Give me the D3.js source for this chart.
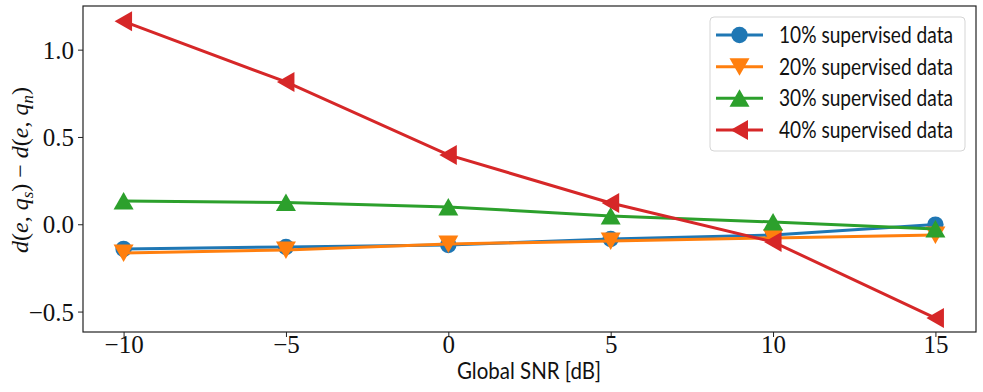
<!DOCTYPE html>
<html>
<head>
<meta charset="utf-8">
<script src="https://cdn.jsdelivr.net/npm/d3@7"></script>
<style>
  body { margin: 0; background: #fff; }
  svg { display: block; }
</style>
</head>
<body>
<svg id="chart" width="983" height="392"></svg>
<script>
const snr = [-10, -5, 0, 5, 10, 15]
const labels = ['10% supervised data', '20% supervised data', '30% supervised data', '40% supervised data']
const sup10 = [-0.141, -0.130, -0.119, -0.084, -0.061, -0.002]
const sup20 = [-0.164, -0.147, -0.113, -0.096, -0.078, -0.061]
const sup30 = [0.133, 0.124, 0.099, 0.048, 0.013, -0.027]
const sup40 = [1.162, 0.815, 0.397, 0.122, -0.101, -0.537]
const xTicks = [-10, -5, 0, 5, 10, 15]
const yTicks = [-0.5, 0.0, 0.5, 1.0]

const colors = ['#1f77b4', '#ff7f0e', '#2ca02c', '#d62728']
const symbols = ['circle', 'down', 'up', 'left']
const series = [sup10, sup20, sup30, sup40]

const plot = { left: 83, right: 976, top: 6, bottom: 332 }
const svg = d3.select('#chart')

const x = d3.scaleLinear().domain([-11.25, 16.25]).range([plot.left, plot.right])
const y = d3.scaleLinear().domain([-0.617, 1.25]).range([plot.bottom, plot.top])

const fmt = (v, digits) => {
  const s = digits ? Math.abs(v).toFixed(digits) : String(Math.abs(v))
  return (v < 0 ? '\u2212' : '') + s
}

// axes
const xAxis = svg.append('g')
  .attr('transform', `translate(0,${plot.bottom})`)
  .call(d3.axisBottom(x).tickValues(xTicks).tickSize(5).tickSizeOuter(0).tickFormat(d => fmt(d)))
const yAxis = svg.append('g')
  .attr('transform', `translate(${plot.left},0)`)
  .call(d3.axisLeft(y).tickValues(yTicks).tickSize(5).tickSizeOuter(0).tickFormat(d => fmt(d, 1)))

for (const ax of [xAxis, yAxis]) {
  ax.select('.domain').remove()
  ax.selectAll('.tick line').attr('stroke', '#222').attr('stroke-width', 1)
  ax.selectAll('.tick text')
    .attr('fill', '#111')
    .style('font-family', '"Liberation Serif", "DejaVu Serif", serif')
    .style('font-size', '25px')
}
xAxis.selectAll('.tick text').attr('dy', 0).attr('y', 21)
yAxis.selectAll('.tick text').attr('x', -9).attr('dy', '0.34em')

// marker shapes
function marker(sel, kind, s) {
  if (kind === 'circle') return sel.append('circle').attr('r', s * 0.82)
  let pts
  if (kind === 'down') pts = [[-s, -s * 0.85], [s, -s * 0.85], [0, s * 0.9]]
  else if (kind === 'up') pts = [[-s, s * 0.85], [s, s * 0.85], [0, -s * 0.9]]
  else pts = [[s * 0.85, -s], [s * 0.85, s], [-s * 0.9, 0]]
  return sel.append('path').attr('d', 'M' + pts.map(p => p.join(',')).join('L') + 'Z')
}

const line = d3.line().x((d, i) => x(snr[i])).y(d => y(d))
const g = svg.append('g')
series.forEach((vals, k) => {
  const sg = g.append('g')
  sg.append('path')
    .attr('d', line(vals))
    .attr('fill', 'none')
    .attr('stroke', colors[k])
    .attr('stroke-width', 3)
  vals.forEach((v, i) => {
    const mg = sg.append('g').attr('transform', `translate(${x(snr[i])},${y(v)})`)
    marker(mg, symbols[k], 10).attr('fill', colors[k])
  })
})

// frame
svg.append('rect')
  .attr('x', plot.left).attr('y', plot.top)
  .attr('width', plot.right - plot.left).attr('height', plot.bottom - plot.top)
  .attr('fill', 'none').attr('stroke', '#222').attr('stroke-width', 1.2)

// legend
const leg = svg.append('g')
leg.append('rect')
  .attr('x', 710).attr('y', 17).attr('width', 255).attr('height', 134)
  .attr('rx', 4).attr('fill', '#fff').attr('fill-opacity', 0.8)
  .attr('stroke', '#d5d5d5').attr('stroke-width', 1)
const rowY = d3.scaleLinear().domain([0, 3]).range([35, 130])
labels.forEach((lab, k) => {
  const yy = rowY(k)
  leg.append('line')
    .attr('x1', 716).attr('x2', 763).attr('y1', yy).attr('y2', yy)
    .attr('stroke', colors[k]).attr('stroke-width', 3)
  const mg = leg.append('g').attr('transform', `translate(739.5,${yy})`)
  marker(mg, symbols[k], 10).attr('fill', colors[k])
  leg.append('text')
    .attr('x', 779).attr('y', yy).attr('dy', '0.36em')
    .attr('textLength', 174).attr('lengthAdjust', 'spacingAndGlyphs')
    .style('font-family', 'Lato, "DejaVu Sans", sans-serif')
    .style('font-size', '22.5px')
    .attr('fill', '#111')
    .text(lab)
})

// axis labels
svg.append('text')
  .attr('x', 457).attr('y', 379)
  .attr('textLength', 144).attr('lengthAdjust', 'spacingAndGlyphs')
  .style('font-family', 'Lato, "DejaVu Sans", sans-serif')
  .style('font-size', '22.5px')
  .attr('fill', '#111')
  .text('Global SNR [dB]')

const yl = svg.append('text')
  .attr('transform', `translate(28,${(plot.top + plot.bottom) / 2 + 1}) rotate(-90)`)
  .attr('text-anchor', 'middle')
  .style('font-family', '"Liberation Serif", "DejaVu Serif", serif')
  .style('font-size', '24px')
  .attr('fill', '#111')
yl.append('tspan').style('font-style', 'italic').text('d')
yl.append('tspan').text('(')
yl.append('tspan').style('font-style', 'italic').text('e')
yl.append('tspan').text(', ')
yl.append('tspan').style('font-style', 'italic').text('q')
yl.append('tspan').style('font-style', 'italic').style('font-size', '17px').attr('dy', 5).text('s')
yl.append('tspan').attr('dy', -5).text(') \u2212 ')
yl.append('tspan').style('font-style', 'italic').text('d')
yl.append('tspan').text('(')
yl.append('tspan').style('font-style', 'italic').text('e')
yl.append('tspan').text(', ')
yl.append('tspan').style('font-style', 'italic').text('q')
yl.append('tspan').style('font-style', 'italic').style('font-size', '17px').attr('dy', 5).text('n')
yl.append('tspan').attr('dy', -5).text(')')
</script>
</body>
</html>
